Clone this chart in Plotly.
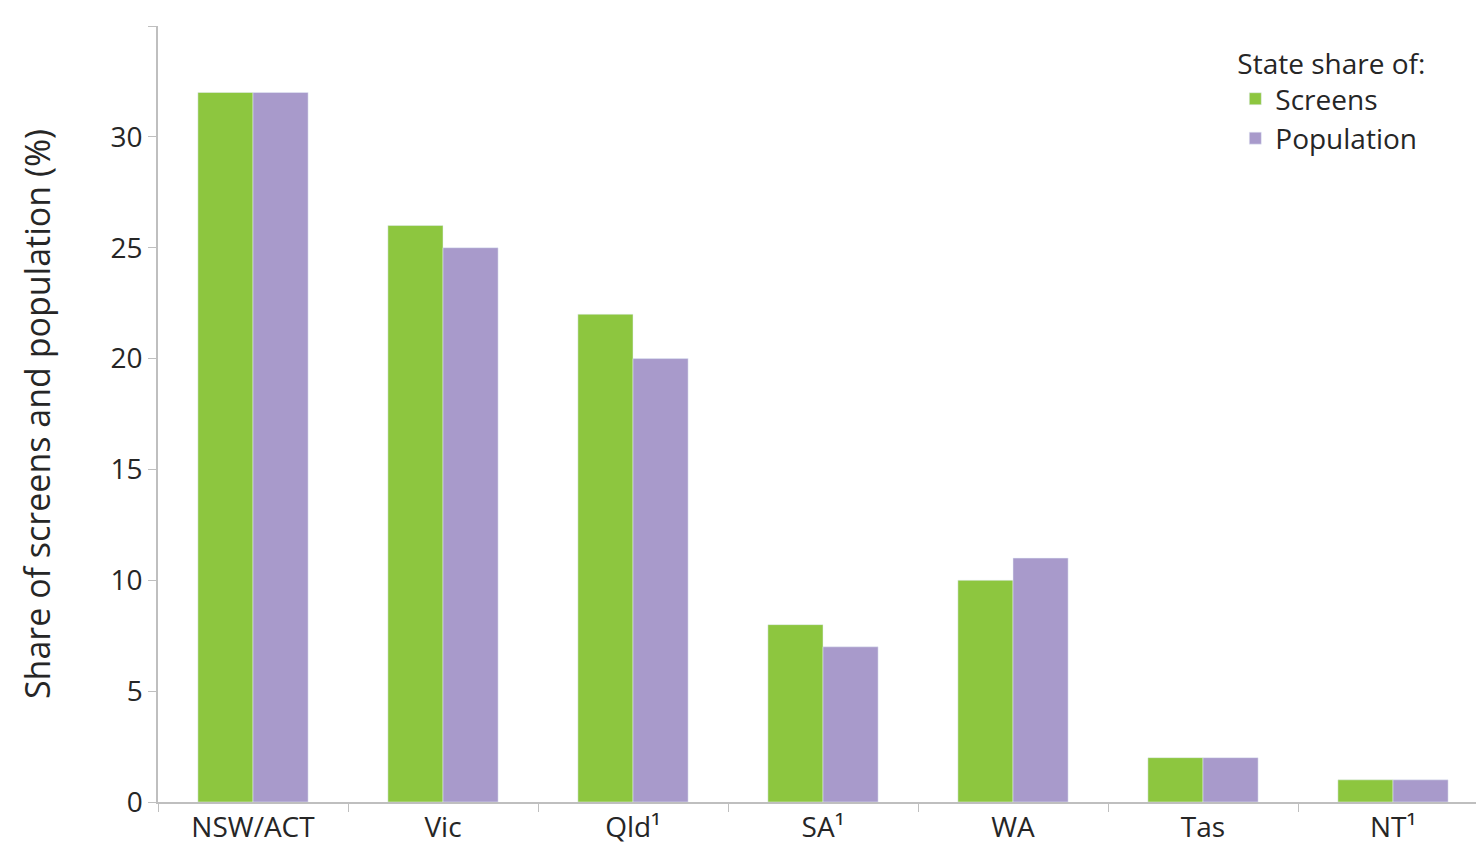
import plotly.graph_objects as go

states = ["NSW/ACT", "Vic", "Qld¹", "SA¹", "WA", "Tas", "NT¹"]
screens = [32, 26, 22, 8, 10, 2, 1]
population = [32, 25, 20, 7, 11, 2, 1]
y_ticks = [0, 5, 10, 15, 20, 25, 30, 35]

fig = go.Figure()
fig.add_trace(go.Bar(x=states, y=screens, name="Screens", marker_color="#8dc63f"))
fig.add_trace(go.Bar(x=states, y=population, name="Population", marker_color="#a89acb"))

fig.update_layout(
    width=1484, height=859,
    margin=dict(l=150, r=4, t=18, b=65),
    paper_bgcolor="white", plot_bgcolor="white",
    font=dict(family="Open Sans", size=28, color="#262626"),
    barmode="group", bargap=0.42, bargroupgap=0,
    legend=dict(
        title=dict(text="State share of:", font=dict(size=28)),
        x=0.81, y=0.985, xanchor="left", yanchor="top",
        font=dict(size=28), tracegroupgap=10, itemwidth=30,
    ),
    xaxis=dict(
        showline=True, linecolor="#bfbfbf", linewidth=1.5,
        ticks="outside", tickson="boundaries", ticklen=8, tickcolor="#bfbfbf",
    ),
    yaxis=dict(
        range=[0, 35], tickvals=y_ticks, showgrid=False, zeroline=False,
        showline=True, linecolor="#bfbfbf", linewidth=1.5,
        ticks="outside", ticklen=8, tickcolor="#bfbfbf",
        title=dict(text="Share of screens and population (%)", standoff=50),
    ),
)

fig.write_html("out.html")
